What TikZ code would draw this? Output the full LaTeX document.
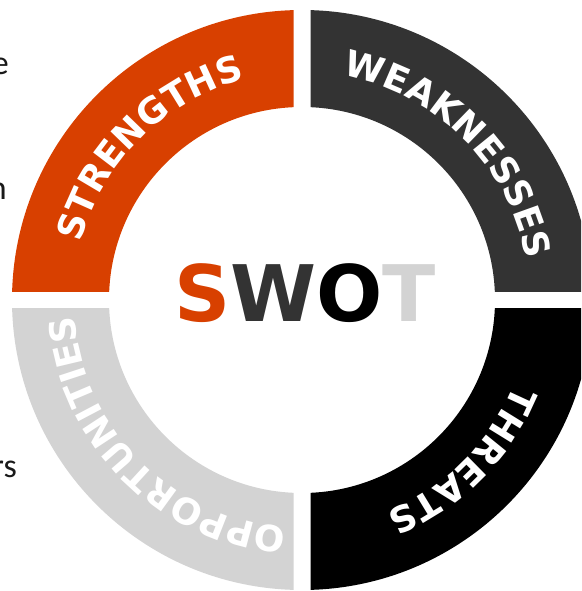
\documentclass[tikz,border=0pt]{standalone}
\usepackage{fontspec}
\setmainfont{DejaVu Sans}
\newfontfamily\fragfont{Carlito}
\usetikzlibrary{decorations.text}
\definecolor{swotorange}{RGB}{216,64,0}
\definecolor{swotdark}{RGB}{51,51,51}
\definecolor{swotblack}{RGB}{0,0,0}
\definecolor{swotlight}{RGB}{211,211,211}
\begin{document}
\begin{tikzpicture}[x=1pt,y=1pt,
  ringpart/.style={even odd rule},
  arctext/.style={decorate, decoration={text along path, text align=center,
    text={|\bfseries\fontsize{36}{36}\selectfont\color{white}|#1}}},
  frag/.style={anchor=base east, inner sep=0pt, font=\fragfont\fontsize{34}{34}\selectfont, text=black!90}]
\useasboundingbox (-302,-291) rectangle (279,300);
\clip (-302,-291) rectangle (279,300);
\def\Ro{290}\def\Ri{193}\def\g{8.5}\def\Rt{228}
% quadrants
\begin{scope}\clip (-300,\g) rectangle (-\g,300);
  \fill[swotorange,ringpart] (0,0) circle (\Ro) (0,0) circle (\Ri);\end{scope}
\begin{scope}\clip (\g,\g) rectangle (300,300);
  \fill[swotdark,ringpart] (0,0) circle (\Ro) (0,0) circle (\Ri);\end{scope}
\begin{scope}\clip (\g,-\g) rectangle (300,-300);
  \fill[swotblack,ringpart] (0,0) circle (\Ro) (0,0) circle (\Ri);\end{scope}
\begin{scope}\clip (-300,-\g) rectangle (-\g,-300);
  \fill[swotlight,ringpart] (0,0) circle (\Ro) (0,0) circle (\Ri);\end{scope}
% curved labels
\path[arctext=STRENGTHS] (179:\Rt) arc[start angle=179, end angle=91, radius=\Rt];
\path[arctext=WEAKNESSES] (89:\Rt) arc[start angle=89, end angle=1, radius=\Rt];
\path[arctext=THREATS] (-1:\Rt) arc[start angle=-1, end angle=-89, radius=\Rt];
\path[arctext=OPPORTUNITIES] (-91:\Rt) arc[start angle=-91, end angle=-179, radius=\Rt];
% centre word
\node (swot) at (3,6.5) {\fontsize{78}{78}\selectfont\bfseries\textcolor{swotorange}{S}\textcolor{swotdark}{W}\textcolor{swotblack}{O}\textcolor{swotlight}{T}};
% cut-off text fragments at the left edge
\node[frag] (frage) at (-293,225) {e};
\node[frag] (fragn) at (-295,100) {n};
\node[frag] (fragrs) at (-285,-177) {rs};
\end{tikzpicture}
\end{document}
